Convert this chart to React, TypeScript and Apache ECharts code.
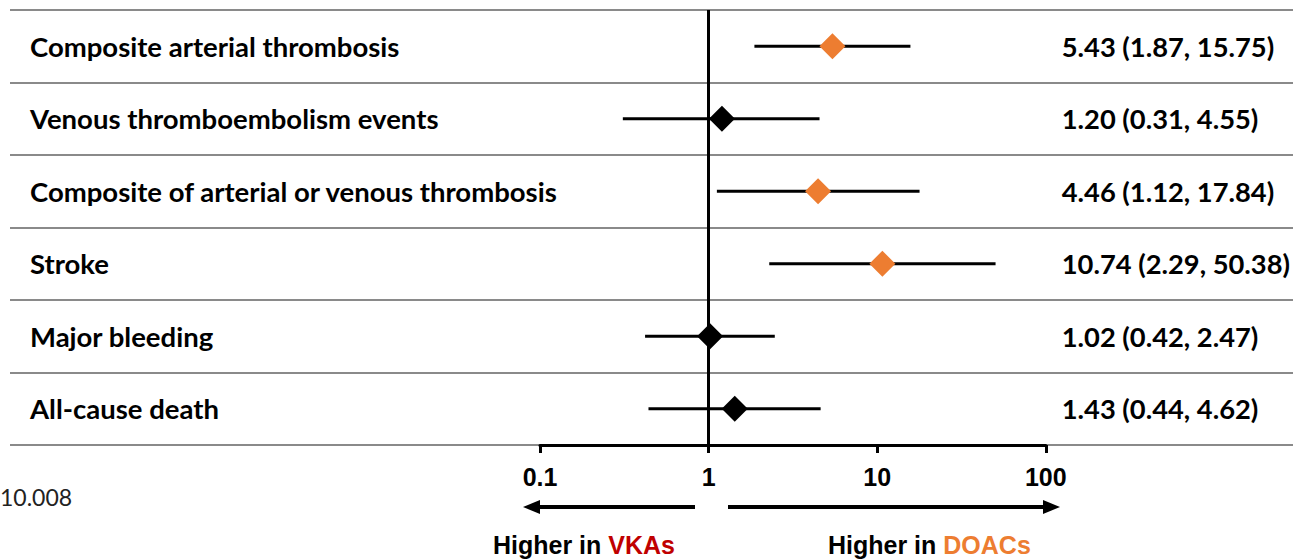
import React, { useEffect, useRef } from "react";
import * as echarts from "echarts";

const outcomes = [
  "Composite arterial thrombosis",
  "Venous thromboembolism events",
  "Composite of arterial or venous thrombosis",
  "Stroke",
  "Major bleeding",
  "All-cause death",
];
const estimates = [5.43, 1.2, 4.46, 10.74, 1.02, 1.43];
const lower = [1.87, 0.31, 1.12, 2.29, 0.42, 0.44];
const upper = [15.75, 4.55, 17.84, 50.38, 2.47, 4.62];
const estText = ["5.43", "1.20", "4.46", "10.74", "1.02", "1.43"];
const lowText = ["1.87", "0.31", "1.12", "2.29", "0.42", "0.44"];
const upText = ["15.75", "4.55", "17.84", "50.38", "2.47", "4.62"];
const xTicks = [0.1, 1, 10, 100];

const ORANGE = "#ED7D31";
const RED = "#C00000";
const GRAY = "#8a8a8a";
const ROWFONT = "Lato, 'Noto Sans', sans-serif";
const AXFONT = "'Liberation Sans', Arial, sans-serif";

export default function App() {
  const ref = useRef<HTMLDivElement>(null);
  useEffect(() => {
    if (!ref.current) return;
    const chart = echarts.init(ref.current, undefined, { renderer: "svg" });
    const ciLabels = outcomes.map((_, i) => `${estText[i]} (${lowText[i]}, ${upText[i]})`);
    const option: any = {
      animation: false,
      grid: [
        { left: 10, right: 0, top: 10, bottom: 114 },
        { left: 540, right: 246, top: 10, bottom: 114 },
      ],
      xAxis: [
        { type: "value", gridIndex: 0, show: false },
        {
          type: "log",
          logBase: 10,
          gridIndex: 1,
          min: xTicks[0],
          max: xTicks[xTicks.length - 1],
          z: 5,
          axisLine: { show: true, lineStyle: { color: "#000", width: 3 } },
          axisTick: { show: true, length: 8, lineStyle: { color: "#000", width: 3 } },
          splitLine: { show: false },
          minorTick: { show: false },
          axisLabel: {
            margin: 19,
            color: "#000",
            fontFamily: AXFONT,
            fontWeight: "bold",
            fontSize: 25,
            formatter: (v: number) => String(v),
          },
        },
      ],
      yAxis: [
        {
          type: "category",
          gridIndex: 0,
          inverse: true,
          data: outcomes,
          axisLine: { show: false },
          axisTick: { show: false },
          splitLine: { show: true, lineStyle: { color: GRAY, width: 2 } },
          axisLabel: {
            inside: true,
            margin: 20,
            color: "#000",
            fontFamily: ROWFONT,
            fontWeight: "bold",
            fontSize: 27.5,
          },
        },
        {
          type: "category",
          gridIndex: 1,
          inverse: true,
          data: outcomes,
          show: false,
        },
        {
          type: "category",
          gridIndex: 1,
          inverse: true,
          position: "right",
          data: ciLabels,
          axisLine: { show: false },
          axisTick: { show: false },
          splitLine: { show: false },
          axisLabel: {
            margin: 16,
            align: "left",
            color: "#000",
            fontFamily: ROWFONT,
            fontWeight: "bold",
            fontSize: 27.3,
          },
        },
      ],
      series: [
        {
          type: "custom",
          xAxisIndex: 1,
          yAxisIndex: 1,
          encode: { x: [0, 1], y: 2 },
          data: outcomes.map((_, i) => [lower[i], upper[i], i]),
          renderItem: (params: any, api: any) => {
            const y = api.value(2);
            const p1 = api.coord([api.value(0), y]);
            const p2 = api.coord([api.value(1), y]);
            return {
              type: "line",
              shape: { x1: p1[0], y1: p1[1], x2: p2[0], y2: p2[1] },
              style: { stroke: "#000", lineWidth: 3 },
            };
          },
          z: 3,
        },
        {
          type: "scatter",
          xAxisIndex: 1,
          yAxisIndex: 1,
          symbol: "diamond",
          symbolSize: 26,
          z: 4,
          data: outcomes.map((_, i) => ({
            value: [estimates[i], i],
            itemStyle: { color: lower[i] > 1 ? ORANGE : "#000", opacity: 1 },
          })),
          itemStyle: { opacity: 1 },
          markLine: {
            silent: true,
            symbol: "none",
            label: { show: false },
            lineStyle: { color: "#000", width: 3, type: "solid", opacity: 1 },
            data: [{ xAxis: 1 }],
            z: 2,
          },
        },
      ],
      graphic: [
        {
          type: "line",
          shape: { x1: 695, y1: 507, x2: 536, y2: 507 },
          style: { stroke: "#000", lineWidth: 4 },
        },
        {
          type: "polygon",
          shape: { points: [[523, 507], [540, 500], [540, 514]] },
          style: { fill: "#000" },
        },
        {
          type: "line",
          shape: { x1: 728, y1: 507, x2: 1046, y2: 507 },
          style: { stroke: "#000", lineWidth: 4 },
        },
        {
          type: "polygon",
          shape: { points: [[1060, 507], [1043, 500], [1043, 514]] },
          style: { fill: "#000" },
        },
        {
          type: "text",
          x: 493,
          y: 545,
          style: {
            text: "{a|Higher in }{b|VKAs}",
            verticalAlign: "middle",
            rich: {
              a: { fill: "#000", fontFamily: AXFONT, fontWeight: "bold", fontSize: 25, lineHeight: 26 },
              b: { fill: RED, fontFamily: AXFONT, fontWeight: "bold", fontSize: 25, lineHeight: 26 },
            },
          },
        },
        {
          type: "text",
          x: 828,
          y: 545,
          style: {
            text: "{a|Higher in }{b|DOACs}",
            verticalAlign: "middle",
            rich: {
              a: { fill: "#000", fontFamily: AXFONT, fontWeight: "bold", fontSize: 25, lineHeight: 26 },
              b: { fill: ORANGE, fontFamily: AXFONT, fontWeight: "bold", fontSize: 25, lineHeight: 26 },
            },
          },
        },
        {
          type: "text",
          x: 0,
          y: 497,
          style: {
            text: "10.008",
            verticalAlign: "middle",
            fill: "#222",
            fontFamily: ROWFONT,
            fontSize: 23,
          },
        },
      ],
    };
    chart.setOption(option);
    return () => chart.dispose();
  }, []);
  return (
    <div
      ref={ref}
      style={{ position: "fixed", left: 0, top: 0, width: 1293, height: 559, background: "#fff" }}
    />
  );
}
